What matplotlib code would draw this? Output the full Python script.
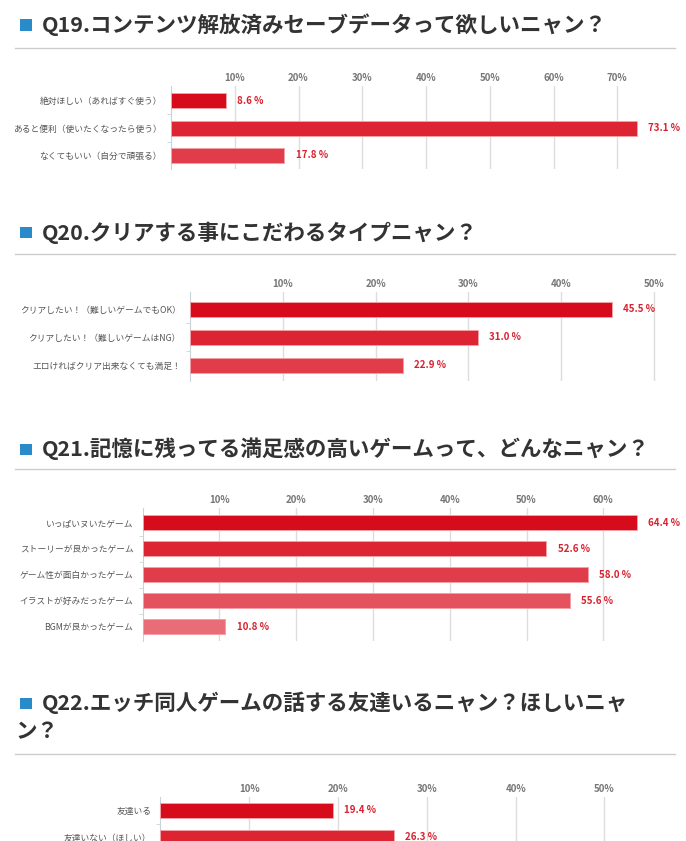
import matplotlib
matplotlib.use('Agg')
import matplotlib.pyplot as plt
from matplotlib.patches import Rectangle
from matplotlib.lines import Line2D

plt.rcParams['font.family'] = ['Noto Sans CJK JP', 'DejaVu Sans']

W, H = 686, 841

###############################################################################
# Survey data
q19_title = 'Q19.コンテンツ解放済みセーブデータって欲しいニャン？'
q19_labels = ['絶対ほしい（あればすぐ使う）', 'あると便利（使いたくなったら使う）',
              'なくてもいい（自分で頑張る）']
q19_values = [8.6, 73.1, 17.8]
q19_ticks = [10, 20, 30, 40, 50, 60, 70]

q20_title = 'Q20.クリアする事にこだわるタイプニャン？'
q20_labels = ['クリアしたい！（難しいゲームでもOK）', 'クリアしたい！（難しいゲームはNG）',
              'エロければクリア出来なくても満足！']
q20_values = [45.5, 31.0, 22.9]
q20_ticks = [10, 20, 30, 40, 50]

q21_title = 'Q21.記憶に残ってる満足感の高いゲームって、どんなニャン？'
q21_labels = ['いっぱいヌいたゲーム', 'ストーリーが良かったゲーム', 'ゲーム性が面白かったゲーム',
              'イラストが好みだったゲーム', 'BGMが良かったゲーム']
q21_values = [64.4, 52.6, 58.0, 55.6, 10.8]
q21_ticks = [10, 20, 30, 40, 50, 60]

q22_title = ['Q22.エッチ同人ゲームの話する友達いるニャン？ほしいニャ', 'ン？']
q22_labels = ['友達いる', '友達いない（ほしい）']
q22_values = [19.4, 26.3]
q22_ticks = [10, 20, 30, 40, 50]

bar_colors = ['#d60b1b', '#dc2432', '#e03c49', '#e4525e', '#e86d76']
red_text = '#d9222f'

fig = plt.figure(figsize=(W / 100, H / 100), dpi=100)
fig.patch.set_facecolor('white')


def fx(px):
    return px / W


def fy(py):
    return 1 - py / H


###############################################################################
# Section headers (a wrapped second line starts at the left margin)
def header(lines, y_first, y_rule, line_gap=29):
    sq_y = y_first - 5.5
    fig.add_artist(Rectangle((fx(20), fy(sq_y + 11)), 12 / W, 11 / H,
                             transform=fig.transFigure, color='#2a8bcb', lw=0))
    for i, line in enumerate(lines):
        fig.text(fx(42 if i == 0 else 15), fy(y_first + i * line_gap), line,
                 fontsize=15.5, fontweight='bold', color='#333333',
                 va='center', ha='left')
    fig.add_artist(Line2D([fx(15), fx(675)], [fy(y_rule), fy(y_rule)],
                          transform=fig.transFigure, color='#cccccc', lw=1))


header([q19_title], 25, 47.5)
header([q20_title], 233, 254)
header([q21_title], 449, 469)
header(q22_title, 703, 754)


###############################################################################
# Bar charts
def bar_chart(labels, values, ticks, x0, px_per_pct, top, first_c, step, bottom, right=672):
    n = len(values)
    ax = fig.add_axes([fx(x0), fy(bottom), (right - x0) / W, (bottom - top) / H])
    ax.set_xlim(0, (right - x0) / px_per_pct)
    ax.set_ylim((bottom - first_c) / step, -(first_c - top) / step)
    pos = list(range(n))
    ax.barh(pos, values, height=15 / step, color=bar_colors[:n],
            edgecolor='#f3a0a6', linewidth=0.7, zorder=3)
    for p, v in zip(pos, values):
        ax.annotate(f'{v:.1f} %', (v, p), xytext=(8, 0), textcoords='offset points',
                    ha='left', va='center', fontsize=7, color=red_text, fontweight='bold')
    ax.set_xticks(ticks)
    ax.set_xticklabels([f'{t}%' for t in ticks], fontsize=7, color='#777777',
                       fontweight='bold')
    ax.xaxis.tick_top()
    ax.tick_params(axis='x', length=0, pad=2)
    ax.set_yticks(pos)
    ax.set_yticklabels(labels, fontsize=6.3, color='#555555')
    ax.tick_params(axis='y', length=0, pad=6.5)
    ax.set_yticks([p + 0.5 for p in pos[:-1]], minor=True)
    ax.tick_params(axis='y', which='minor', length=3, color='#c8d4dc')
    ax.grid(axis='x', color='#dddddd', lw=1, zorder=0)
    for s in ['top', 'right', 'bottom']:
        ax.spines[s].set_visible(False)
    ax.spines['left'].set_color('#c8d4dc')
    ax.set_facecolor('none')
    return ax


bar_chart(q19_labels, q19_values, q19_ticks, 171, 6.375, 86, 100.5, 27.5, 169)
bar_chart(q20_labels, q20_values, q20_ticks, 190, 9.28, 292, 309, 28.25, 381)
bar_chart(q21_labels, q21_values, q21_ticks, 142.5, 7.68, 508, 522.5, 26.1, 641)
bar_chart(q22_labels, q22_values, q22_ticks, 160.4, 8.88, 797, 810, 27, 900)

fig.savefig('out.png', dpi=100)
